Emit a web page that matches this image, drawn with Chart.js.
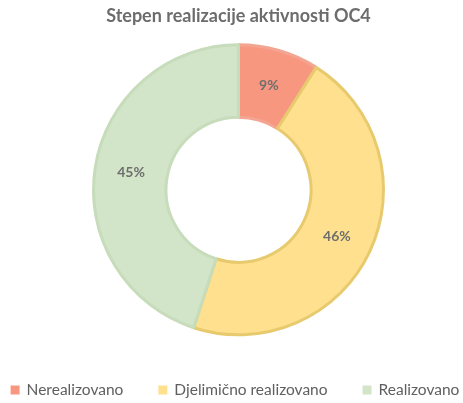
<!DOCTYPE html>
<html>
<head>
<meta charset="utf-8">
<script src="https://cdn.jsdelivr.net/npm/chart.js@4/dist/chart.umd.min.js"></script>
<style>
  html, body { margin: 0; padding: 0; background: #fff; }
  #wrap { width: 463px; height: 403px; }
</style>
</head>
<body>
<div id="wrap"><canvas id="chart" width="463" height="403"></canvas></div>
<script>
// data
const categories = ["Nerealizovano", "Djelimično realizovano", "Realizovano"];
const shares = [9, 46, 45];
const fills = ["#F8977F", "#FFE08F", "#D2E5C8"];
const borders = ["#F3A592", "#E8CA6E", "#C7DCBA"];

// percentage labels in the middle of each ring segment
const sliceLabels = {
    id: "sliceLabels",
    afterDatasetsDraw(chart) {
        const ctx = chart.ctx;
        const meta = chart.getDatasetMeta(0);
        ctx.save();
        ctx.font = "bold 14px Lato";
        ctx.fillStyle = "#6E6E6E";
        ctx.textAlign = "center";
        ctx.textBaseline = "middle";
        meta.data.forEach((arc, i) => {
            const p = arc.tooltipPosition();
            ctx.fillText(shares[i] + "%", p.x, p.y);
        });
        ctx.restore();
    }
};

// wide spaced legend row under the ring (built-in one wraps here)
const bottomLegend = {
    id: "bottomLegend",
    afterDraw(chart) {
        const ctx = chart.ctx;
        const box = 9, gapText = 7, gapItem = 35;
        ctx.save();
        ctx.font = "15.5px Lato";
        ctx.textBaseline = "middle";
        const widths = categories.map(c => box + gapText + ctx.measureText(c).width);
        const total = widths.reduce((a, b) => a + b, 0) + gapItem * (categories.length - 1);
        let x = 235 - total / 2;
        const y = 390;
        categories.forEach((c, i) => {
            ctx.fillStyle = fills[i];
            ctx.fillRect(x, y - box / 2, box, box);
            ctx.fillStyle = "#5F5F5F";
            ctx.fillText(c, x + box + gapText, y);
            x += widths[i] + gapItem;
        });
        ctx.restore();
    }
};

new Chart(document.getElementById("chart"), {
    type: "doughnut",
    data: {
        labels: categories,
        datasets: [{
            data: shares,
            backgroundColor: fills,
            borderColor: borders,
            borderWidth: 3,
            radius: 145
        }]
    },
    options: {
        responsive: false,
        animation: false,
        cutout: "50%",
        layout: { padding: { top: 3, left: 14, bottom: 64 } },
        plugins: {
            title: {
                display: true,
                text: "Stepen realizacije aktivnosti OC4",
                color: "#6C6C6C",
                font: { family: "Lato", size: 18, weight: "bold" },
                padding: { top: 2, bottom: 14 }
            },
            legend: { display: false },
            tooltip: { enabled: false }
        }
    },
    plugins: [sliceLabels, bottomLegend]
});
</script>
</body>
</html>
